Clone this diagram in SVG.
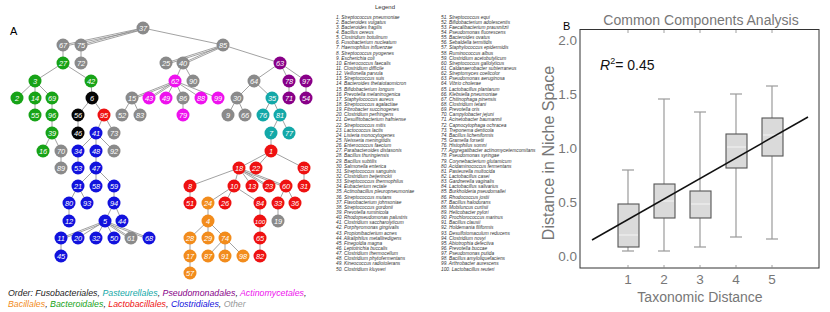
<svg xmlns="http://www.w3.org/2000/svg" width="830" height="312" viewBox="0 0 830 312">
<style>
.e{stroke:#8a8a8a;stroke-width:0.8;fill:none}
.gy{fill:#8a8a8a}.gr{fill:#17a317}.bk{fill:#050505}.rd{fill:#ee1111}.mg{fill:#ee11ee}.pu{fill:#880088}.tl{fill:#13a8a8}.bl{fill:#1212dd}.or{fill:#f28c1c}
.t{font-family:"Liberation Sans",Arial,sans-serif;font-size:7.4px;font-style:italic;fill:#fff;text-anchor:middle}
.lg{font-family:"Liberation Sans",Arial,sans-serif;font-size:4.8px;font-style:italic;fill:#333}
.ax{font-family:"Liberation Sans",Arial,sans-serif;fill:#777}
.ord{font-family:"Liberation Sans",Arial,sans-serif;font-size:8.8px;font-style:italic}
.wh{stroke:#9a9a9a;stroke-width:1.2}
.bx{fill:#dadada;stroke:#555;stroke-width:1.1}
.md{stroke:#f4f4f4;stroke-width:1}
.tk{stroke:#888;stroke-width:0.8}
</style>
<rect width="830" height="312" fill="#fff"/>
<text x="10" y="35" font-family="Liberation Sans,Arial,sans-serif" font-size="11">A</text>
<g id="connectors">
<line class="e" x1="143" y1="28" x2="63" y2="45"/><line class="e" x1="143" y1="29.5" x2="63" y2="46.5"/>
<line class="e" x1="143" y1="28" x2="81" y2="45"/><line class="e" x1="143" y1="29.5" x2="81" y2="46.5"/>
<line class="e" x1="143" y1="28" x2="223" y2="45"/>
<line class="e" x1="63" y1="45" x2="63" y2="63"/>
<line class="e" x1="81" y1="45" x2="81" y2="63"/>
<line class="e" x1="63" y1="63" x2="35" y2="81"/>
<line class="e" x1="63" y1="63" x2="91" y2="81"/>
<line class="e" x1="35" y1="81" x2="17" y2="98"/>
<line class="e" x1="35" y1="81" x2="35" y2="98"/>
<line class="e" x1="35" y1="81" x2="52" y2="98"/>
<line class="e" x1="35" y1="98" x2="35" y2="115"/>
<line class="e" x1="52" y1="98" x2="52" y2="115"/>
<line class="e" x1="52" y1="115" x2="52" y2="133"/>
<line class="e" x1="52" y1="133" x2="43" y2="151"/>
<line class="e" x1="52" y1="133" x2="61" y2="151"/>
<line class="e" x1="61" y1="151" x2="61" y2="168"/>
<line class="e" x1="91" y1="81" x2="92" y2="98"/>
<line class="e" x1="92" y1="98" x2="78" y2="115"/>
<line class="e" x1="92" y1="98" x2="104" y2="115"/>
<line class="e" x1="78" y1="115" x2="78" y2="133"/>
<line class="e" x1="104" y1="115" x2="96" y2="133"/>
<line class="e" x1="104" y1="115" x2="114" y2="133"/>
<line class="e" x1="96" y1="133" x2="78" y2="151"/>
<line class="e" x1="96" y1="133" x2="96" y2="151"/>
<line class="e" x1="96" y1="133" x2="114" y2="151"/>
<line class="e" x1="78" y1="151" x2="78" y2="168"/>
<line class="e" x1="96" y1="151" x2="96" y2="168"/>
<line class="e" x1="96" y1="168" x2="78" y2="186"/>
<line class="e" x1="96" y1="168" x2="96" y2="186"/>
<line class="e" x1="96" y1="168" x2="114" y2="186"/>
<line class="e" x1="78" y1="186" x2="69" y2="203"/>
<line class="e" x1="78" y1="186" x2="87" y2="203"/>
<line class="e" x1="69" y1="203" x2="69" y2="221"/>
<line class="e" x1="114" y1="186" x2="114" y2="203"/>
<line class="e" x1="114" y1="203" x2="105" y2="221"/>
<line class="e" x1="114" y1="203" x2="122" y2="221"/>
<line class="e" x1="105" y1="221" x2="61" y2="238"/><line class="e" x1="105" y1="222.5" x2="61" y2="239.5"/>
<line class="e" x1="105" y1="221" x2="78" y2="238"/>
<line class="e" x1="105" y1="221" x2="96" y2="238"/>
<line class="e" x1="105" y1="221" x2="114" y2="238"/>
<line class="e" x1="105" y1="221" x2="131" y2="238"/><line class="e" x1="105" y1="222.5" x2="131" y2="239.5"/>
<line class="e" x1="105" y1="221" x2="149" y2="238"/><line class="e" x1="105" y1="222.5" x2="149" y2="239.5"/>
<line class="e" x1="61" y1="238" x2="61" y2="256"/>
<line class="e" x1="223" y1="45" x2="166" y2="63"/><line class="e" x1="223" y1="46.5" x2="166" y2="64.5"/>
<line class="e" x1="223" y1="45" x2="183" y2="63"/><line class="e" x1="223" y1="46.5" x2="183" y2="64.5"/>
<line class="e" x1="223" y1="45" x2="280" y2="63"/>
<line class="e" x1="183" y1="63" x2="175" y2="81"/>
<line class="e" x1="183" y1="63" x2="193" y2="81"/>
<line class="e" x1="175" y1="81" x2="132" y2="98"/><line class="e" x1="175" y1="82.5" x2="132" y2="99.5"/>
<line class="e" x1="175" y1="81" x2="149" y2="98"/><line class="e" x1="175" y1="82.5" x2="149" y2="99.5"/>
<line class="e" x1="175" y1="81" x2="166" y2="98"/>
<line class="e" x1="175" y1="81" x2="183" y2="98"/>
<line class="e" x1="175" y1="81" x2="201" y2="98"/>
<line class="e" x1="175" y1="81" x2="218" y2="98"/>
<line class="e" x1="132" y1="98" x2="122" y2="115"/>
<line class="e" x1="132" y1="98" x2="140" y2="115"/>
<line class="e" x1="183" y1="98" x2="183" y2="115"/>
<line class="e" x1="280" y1="63" x2="254" y2="81"/>
<line class="e" x1="280" y1="63" x2="289" y2="81"/>
<line class="e" x1="280" y1="63" x2="306" y2="81"/>
<line class="e" x1="289" y1="81" x2="289" y2="98"/>
<line class="e" x1="306" y1="81" x2="306" y2="98"/>
<line class="e" x1="254" y1="81" x2="237" y2="98"/>
<line class="e" x1="254" y1="81" x2="272" y2="98"/>
<line class="e" x1="237" y1="98" x2="228" y2="115"/>
<line class="e" x1="237" y1="98" x2="245" y2="115"/>
<line class="e" x1="272" y1="98" x2="263" y2="115"/>
<line class="e" x1="272" y1="98" x2="280" y2="115"/>
<line class="e" x1="280" y1="115" x2="271" y2="133"/>
<line class="e" x1="280" y1="115" x2="289" y2="133"/>
<line class="e" x1="271" y1="133" x2="271" y2="151"/>
<line class="e" x1="271" y1="151" x2="239" y2="168"/>
<line class="e" x1="271" y1="151" x2="256" y2="168"/>
<line class="e" x1="271" y1="151" x2="304" y2="168"/>
<line class="e" x1="304" y1="168" x2="304" y2="186"/>
<line class="e" x1="239" y1="168" x2="190" y2="186"/>
<line class="e" x1="239" y1="168" x2="234" y2="186"/>
<line class="e" x1="239" y1="168" x2="252" y2="186"/>
<line class="e" x1="239" y1="168" x2="269" y2="186"/><line class="e" x1="239" y1="169.5" x2="269" y2="187.5"/>
<line class="e" x1="239" y1="168" x2="286" y2="186"/><line class="e" x1="239" y1="169.5" x2="286" y2="187.5"/>
<line class="e" x1="190" y1="186" x2="190" y2="203"/>
<line class="e" x1="234" y1="186" x2="208" y2="203"/>
<line class="e" x1="234" y1="186" x2="225" y2="203"/>
<line class="e" x1="234" y1="186" x2="260" y2="203"/>
<line class="e" x1="286" y1="186" x2="278" y2="203"/>
<line class="e" x1="286" y1="186" x2="295" y2="203"/>
<line class="e" x1="208" y1="203" x2="208" y2="221"/>
<line class="e" x1="260" y1="203" x2="260" y2="221"/>
<line class="e" x1="278" y1="203" x2="278" y2="221"/>
<line class="e" x1="208" y1="221" x2="190" y2="238"/>
<line class="e" x1="208" y1="221" x2="208" y2="238"/>
<line class="e" x1="208" y1="221" x2="225" y2="238"/>
<line class="e" x1="260" y1="221" x2="260" y2="238"/>
<line class="e" x1="190" y1="238" x2="190" y2="256"/>
<line class="e" x1="225" y1="238" x2="208" y2="256"/>
<line class="e" x1="225" y1="238" x2="225" y2="256"/>
<line class="e" x1="225" y1="238" x2="243" y2="256"/>
<line class="e" x1="260" y1="238" x2="260" y2="256"/>
<line class="e" x1="190" y1="256" x2="190" y2="273"/>
</g>
<g id="n37"><circle class="gy" cx="143" cy="28" r="6.5"/><text class="t" x="143" y="30.6">37</text></g>
<g id="n67"><circle class="gy" cx="63" cy="45" r="6.5"/><text class="t" x="63" y="47.6">67</text></g>
<g id="n75"><circle class="gy" cx="81" cy="45" r="6.5"/><text class="t" x="81" y="47.6">75</text></g>
<g id="n85"><circle class="gy" cx="223" cy="45" r="6.5"/><text class="t" x="223" y="47.6">85</text></g>
<g id="n27"><circle class="gr" cx="63" cy="63" r="6.5"/><text class="t" x="63" y="65.6">27</text></g>
<g id="n72"><circle class="gy" cx="81" cy="63" r="6.5"/><text class="t" x="81" y="65.6">72</text></g>
<g id="n25"><circle class="gy" cx="166" cy="63" r="6.5"/><text class="t" x="166" y="65.6">25</text></g>
<g id="n40"><circle class="gy" cx="183" cy="63" r="6.5"/><text class="t" x="183" y="65.6">40</text></g>
<g id="n63"><circle class="pu" cx="280" cy="63" r="6.5"/><text class="t" x="280" y="65.6">63</text></g>
<g id="n3"><circle class="gr" cx="35" cy="81" r="6.5"/><text class="t" x="35" y="83.6">3</text></g>
<g id="n42"><circle class="gr" cx="91" cy="81" r="6.5"/><text class="t" x="91" y="83.6">42</text></g>
<g id="n62"><circle class="mg" cx="175" cy="81" r="6.5"/><text class="t" x="175" y="83.6">62</text></g>
<g id="n90"><circle class="gy" cx="193" cy="81" r="6.5"/><text class="t" x="193" y="83.6">90</text></g>
<g id="n64"><circle class="gy" cx="254" cy="81" r="6.5"/><text class="t" x="254" y="83.6">64</text></g>
<g id="n78"><circle class="pu" cx="289" cy="81" r="6.5"/><text class="t" x="289" y="83.6">78</text></g>
<g id="n97"><circle class="pu" cx="306" cy="81" r="6.5"/><text class="t" x="306" y="83.6">97</text></g>
<g id="n2"><circle class="gr" cx="17" cy="98" r="6.5"/><text class="t" x="17" y="100.6">2</text></g>
<g id="n14"><circle class="gr" cx="35" cy="98" r="6.5"/><text class="t" x="35" y="100.6">14</text></g>
<g id="n69"><circle class="gr" cx="52" cy="98" r="6.5"/><text class="t" x="52" y="100.6">69</text></g>
<g id="n6"><circle class="bk" cx="92" cy="98" r="6.5"/><text class="t" x="92" y="100.6">6</text></g>
<g id="n15"><circle class="gy" cx="132" cy="98" r="6.5"/><text class="t" x="132" y="100.6">15</text></g>
<g id="n43"><circle class="mg" cx="149" cy="98" r="6.5"/><text class="t" x="149" y="100.6">43</text></g>
<g id="n49"><circle class="mg" cx="166" cy="98" r="6.5"/><text class="t" x="166" y="100.6">49</text></g>
<g id="n86"><circle class="gy" cx="183" cy="98" r="6.5"/><text class="t" x="183" y="100.6">86</text></g>
<g id="n88"><circle class="mg" cx="201" cy="98" r="6.5"/><text class="t" x="201" y="100.6">88</text></g>
<g id="n99"><circle class="mg" cx="218" cy="98" r="6.5"/><text class="t" x="218" y="100.6">99</text></g>
<g id="n30"><circle class="gy" cx="237" cy="98" r="6.5"/><text class="t" x="237" y="100.6">30</text></g>
<g id="n35"><circle class="tl" cx="272" cy="98" r="6.5"/><text class="t" x="272" y="100.6">35</text></g>
<g id="n71"><circle class="pu" cx="289" cy="98" r="6.5"/><text class="t" x="289" y="100.6">71</text></g>
<g id="n54"><circle class="pu" cx="306" cy="98" r="6.5"/><text class="t" x="306" y="100.6">54</text></g>
<g id="n55"><circle class="gr" cx="35" cy="115" r="6.5"/><text class="t" x="35" y="117.6">55</text></g>
<g id="n96"><circle class="gr" cx="52" cy="115" r="6.5"/><text class="t" x="52" y="117.6">96</text></g>
<g id="n56"><circle class="bk" cx="78" cy="115" r="6.5"/><text class="t" x="78" y="117.6">56</text></g>
<g id="n95"><circle class="rd" cx="104" cy="115" r="6.5"/><text class="t" x="104" y="117.6">95</text></g>
<g id="n52"><circle class="gy" cx="122" cy="115" r="6.5"/><text class="t" x="122" y="117.6">52</text></g>
<g id="n83"><circle class="gy" cx="140" cy="115" r="6.5"/><text class="t" x="140" y="117.6">83</text></g>
<g id="n79"><circle class="mg" cx="183" cy="115" r="6.5"/><text class="t" x="183" y="117.6">79</text></g>
<g id="n9"><circle class="gy" cx="228" cy="115" r="6.5"/><text class="t" x="228" y="117.6">9</text></g>
<g id="n66"><circle class="gy" cx="245" cy="115" r="6.5"/><text class="t" x="245" y="117.6">66</text></g>
<g id="n76"><circle class="tl" cx="263" cy="115" r="6.5"/><text class="t" x="263" y="117.6">76</text></g>
<g id="n81"><circle class="tl" cx="280" cy="115" r="6.5"/><text class="t" x="280" y="117.6">81</text></g>
<g id="n39"><circle class="gr" cx="52" cy="133" r="6.5"/><text class="t" x="52" y="135.6">39</text></g>
<g id="n46"><circle class="bk" cx="78" cy="133" r="6.5"/><text class="t" x="78" y="135.6">46</text></g>
<g id="n41"><circle class="bl" cx="96" cy="133" r="6.5"/><text class="t" x="96" y="135.6">41</text></g>
<g id="n73"><circle class="gy" cx="114" cy="133" r="6.5"/><text class="t" x="114" y="135.6">73</text></g>
<g id="n7"><circle class="tl" cx="271" cy="133" r="6.5"/><text class="t" x="271" y="135.6">7</text></g>
<g id="n77"><circle class="tl" cx="289" cy="133" r="6.5"/><text class="t" x="289" y="135.6">77</text></g>
<g id="n16"><circle class="gr" cx="43" cy="151" r="6.5"/><text class="t" x="43" y="153.6">16</text></g>
<g id="n70"><circle class="gy" cx="61" cy="151" r="6.5"/><text class="t" x="61" y="153.6">70</text></g>
<g id="n34"><circle class="bl" cx="78" cy="151" r="6.5"/><text class="t" x="78" y="153.6">34</text></g>
<g id="n48"><circle class="bl" cx="96" cy="151" r="6.5"/><text class="t" x="96" y="153.6">48</text></g>
<g id="n92"><circle class="gy" cx="114" cy="151" r="6.5"/><text class="t" x="114" y="153.6">92</text></g>
<g id="n1"><circle class="rd" cx="271" cy="151" r="6.5"/><text class="t" x="271" y="153.6">1</text></g>
<g id="n89"><circle class="gy" cx="61" cy="168" r="6.5"/><text class="t" x="61" y="170.6">89</text></g>
<g id="n53"><circle class="bl" cx="78" cy="168" r="6.5"/><text class="t" x="78" y="170.6">53</text></g>
<g id="n47"><circle class="bl" cx="96" cy="168" r="6.5"/><text class="t" x="96" y="170.6">47</text></g>
<g id="n18"><circle class="rd" cx="239" cy="168" r="6.5"/><text class="t" x="239" y="170.6">18</text></g>
<g id="n22"><circle class="rd" cx="256" cy="168" r="6.5"/><text class="t" x="256" y="170.6">22</text></g>
<g id="n38"><circle class="rd" cx="304" cy="168" r="6.5"/><text class="t" x="304" y="170.6">38</text></g>
<g id="n21"><circle class="bl" cx="78" cy="186" r="6.5"/><text class="t" x="78" y="188.6">21</text></g>
<g id="n58"><circle class="bl" cx="96" cy="186" r="6.5"/><text class="t" x="96" y="188.6">58</text></g>
<g id="n59"><circle class="bl" cx="114" cy="186" r="6.5"/><text class="t" x="114" y="188.6">59</text></g>
<g id="n8"><circle class="rd" cx="190" cy="186" r="6.5"/><text class="t" x="190" y="188.6">8</text></g>
<g id="n10"><circle class="rd" cx="234" cy="186" r="6.5"/><text class="t" x="234" y="188.6">10</text></g>
<g id="n13"><circle class="rd" cx="252" cy="186" r="6.5"/><text class="t" x="252" y="188.6">13</text></g>
<g id="n23"><circle class="rd" cx="269" cy="186" r="6.5"/><text class="t" x="269" y="188.6">23</text></g>
<g id="n60"><circle class="rd" cx="286" cy="186" r="6.5"/><text class="t" x="286" y="188.6">60</text></g>
<g id="n31"><circle class="rd" cx="304" cy="186" r="6.5"/><text class="t" x="304" y="188.6">31</text></g>
<g id="n80"><circle class="bl" cx="69" cy="203" r="6.5"/><text class="t" x="69" y="205.6">80</text></g>
<g id="n93"><circle class="bl" cx="87" cy="203" r="6.5"/><text class="t" x="87" y="205.6">93</text></g>
<g id="n94"><circle class="bl" cx="114" cy="203" r="6.5"/><text class="t" x="114" y="205.6">94</text></g>
<g id="n51"><circle class="rd" cx="190" cy="203" r="6.5"/><text class="t" x="190" y="205.6">51</text></g>
<g id="n24"><circle class="or" cx="208" cy="203" r="6.5"/><text class="t" x="208" y="205.6">24</text></g>
<g id="n26"><circle class="rd" cx="225" cy="203" r="6.5"/><text class="t" x="225" y="205.6">26</text></g>
<g id="n84"><circle class="rd" cx="260" cy="203" r="6.5"/><text class="t" x="260" y="205.6">84</text></g>
<g id="n33"><circle class="rd" cx="278" cy="203" r="6.5"/><text class="t" x="278" y="205.6">33</text></g>
<g id="n36"><circle class="rd" cx="295" cy="203" r="6.5"/><text class="t" x="295" y="205.6">36</text></g>
<g id="n12"><circle class="bl" cx="69" cy="221" r="6.5"/><text class="t" x="69" y="223.6">12</text></g>
<g id="n5"><circle class="bl" cx="105" cy="221" r="6.5"/><text class="t" x="105" y="223.6">5</text></g>
<g id="n44"><circle class="bl" cx="122" cy="221" r="6.5"/><text class="t" x="122" y="223.6">44</text></g>
<g id="n4"><circle class="or" cx="208" cy="221" r="6.5"/><text class="t" x="208" y="223.6">4</text></g>
<g id="n100"><circle class="rd" cx="260" cy="221" r="6.5"/><text class="t" x="260" y="223.6" style="font-size:6.2px">100</text></g>
<g id="n19"><circle class="gy" cx="278" cy="221" r="6.5"/><text class="t" x="278" y="223.6">19</text></g>
<g id="n11"><circle class="bl" cx="61" cy="238" r="6.5"/><text class="t" x="61" y="240.6">11</text></g>
<g id="n20"><circle class="bl" cx="78" cy="238" r="6.5"/><text class="t" x="78" y="240.6">20</text></g>
<g id="n32"><circle class="bl" cx="96" cy="238" r="6.5"/><text class="t" x="96" y="240.6">32</text></g>
<g id="n50"><circle class="bl" cx="114" cy="238" r="6.5"/><text class="t" x="114" y="240.6">50</text></g>
<g id="n61"><circle class="gy" cx="131" cy="238" r="6.5"/><text class="t" x="131" y="240.6">61</text></g>
<g id="n68"><circle class="bl" cx="149" cy="238" r="6.5"/><text class="t" x="149" y="240.6">68</text></g>
<g id="n28"><circle class="or" cx="190" cy="238" r="6.5"/><text class="t" x="190" y="240.6">28</text></g>
<g id="n29"><circle class="or" cx="208" cy="238" r="6.5"/><text class="t" x="208" y="240.6">29</text></g>
<g id="n74"><circle class="or" cx="225" cy="238" r="6.5"/><text class="t" x="225" y="240.6">74</text></g>
<g id="n65"><circle class="rd" cx="260" cy="238" r="6.5"/><text class="t" x="260" y="240.6">65</text></g>
<g id="n45"><circle class="bl" cx="61" cy="256" r="6.5"/><text class="t" x="61" y="258.6">45</text></g>
<g id="n17"><circle class="or" cx="190" cy="256" r="6.5"/><text class="t" x="190" y="258.6">17</text></g>
<g id="n87"><circle class="or" cx="208" cy="256" r="6.5"/><text class="t" x="208" y="258.6">87</text></g>
<g id="n91"><circle class="or" cx="225" cy="256" r="6.5"/><text class="t" x="225" y="258.6">91</text></g>
<g id="n98"><circle class="or" cx="243" cy="256" r="6.5"/><text class="t" x="243" y="258.6">98</text></g>
<g id="n82"><circle class="rd" cx="260" cy="256" r="6.5"/><text class="t" x="260" y="258.6">82</text></g>
<g id="n57"><circle class="or" cx="190" cy="273" r="6.5"/><text class="t" x="190" y="275.6">57</text></g>
<g id="order">
<text class="ord" x="8" y="296"><tspan fill="#222">Order: Fusobacteriales, </tspan><tspan fill="#13a8a8">Pasteurellales</tspan><tspan fill="#222">, </tspan><tspan fill="#880088">Pseudomonadales</tspan><tspan fill="#222">, </tspan><tspan fill="#ee11ee">Actinomycetales</tspan><tspan fill="#222">,</tspan></text>
<text class="ord" x="8" y="307"><tspan fill="#f28c1c">Bacillales</tspan><tspan fill="#222">, </tspan><tspan fill="#17a317">Bacteroidales</tspan><tspan fill="#222">, </tspan><tspan fill="#ee1111">Lactobacillales</tspan><tspan fill="#222">, </tspan><tspan fill="#1212dd">Clostridiales</tspan><tspan fill="#222">, </tspan><tspan fill="#999">Other</tspan></text>
</g>
<g id="legend">
<text x="385" y="9" font-family="Liberation Sans,Arial,sans-serif" font-size="6" fill="#333" text-anchor="middle">Legend</text>
<text class="lg" x="336" y="18.5">1. Streptococcus pneumoniae</text>
<text class="lg" x="336" y="23.6">2. Bacteroides vulgatus</text>
<text class="lg" x="336" y="28.8">3. Bacteroides fragilis</text>
<text class="lg" x="336" y="33.9">4. Bacillus cereus</text>
<text class="lg" x="336" y="39.1">5. Clostridium botulinum</text>
<text class="lg" x="336" y="44.2">6. Fusobacterium nucleatum</text>
<text class="lg" x="336" y="49.4">7. Haemophilus influenzae</text>
<text class="lg" x="336" y="54.5">8. Streptococcus pyogenes</text>
<text class="lg" x="336" y="59.6">9. Escherichia coli</text>
<text class="lg" x="336" y="64.8">10. Enterococcus faecalis</text>
<text class="lg" x="336" y="69.9">11. Clostridium difficile</text>
<text class="lg" x="336" y="75.1">12. Veillonella parvula</text>
<text class="lg" x="336" y="80.2">13. Streptococcus suis</text>
<text class="lg" x="336" y="85.4">14. Bacteroides thetaiotaomicron</text>
<text class="lg" x="336" y="90.5">15. Bifidobacterium longum</text>
<text class="lg" x="336" y="95.6">16. Prevotella melaninogenica</text>
<text class="lg" x="336" y="100.8">17. Staphylococcus aureus</text>
<text class="lg" x="336" y="105.9">18. Streptococcus agalactiae</text>
<text class="lg" x="336" y="111.1">19. Fibrobacter succinogenes</text>
<text class="lg" x="336" y="116.2">20. Clostridium perfringens</text>
<text class="lg" x="336" y="121.4">21. Desulfitobacterium hafniense</text>
<text class="lg" x="336" y="126.5">22. Streptococcus mitis</text>
<text class="lg" x="336" y="131.6">23. Lactococcus lactis</text>
<text class="lg" x="336" y="136.8">24. Listeria monocytogenes</text>
<text class="lg" x="336" y="141.9">25. Neisseria meningitidis</text>
<text class="lg" x="336" y="147.1">26. Enterococcus faecium</text>
<text class="lg" x="336" y="152.2">27. Parabacteroides distasonis</text>
<text class="lg" x="336" y="157.4">28. Bacillus thuringiensis</text>
<text class="lg" x="336" y="162.5">29. Bacillus subtilis</text>
<text class="lg" x="336" y="167.6">30. Salmonella enterica</text>
<text class="lg" x="336" y="172.8">31. Streptococcus sanguinis</text>
<text class="lg" x="336" y="177.9">32. Clostridium beijerinckii</text>
<text class="lg" x="336" y="183.1">33. Streptococcus thermophilus</text>
<text class="lg" x="336" y="188.2">34. Eubacterium rectale</text>
<text class="lg" x="336" y="193.4">35. Actinobacillus pleuropneumoniae</text>
<text class="lg" x="336" y="198.5">36. Streptococcus mutans</text>
<text class="lg" x="336" y="203.6">37. Flavobacterium johnsoniae</text>
<text class="lg" x="336" y="208.8">38. Streptococcus gordonii</text>
<text class="lg" x="336" y="213.9">39. Prevotella ruminicola</text>
<text class="lg" x="336" y="219.1">40. Rhodopseudomonas palustris</text>
<text class="lg" x="336" y="224.2">41. Clostridium saccharolyticum</text>
<text class="lg" x="336" y="229.4">42. Porphyromonas gingivalis</text>
<text class="lg" x="336" y="234.5">43. Propionibacterium acnes</text>
<text class="lg" x="336" y="239.6">44. Alkaliphilus metalliredigens</text>
<text class="lg" x="336" y="244.8">45. Finegoldia magna</text>
<text class="lg" x="336" y="249.9">46. Leptotrichia buccalis</text>
<text class="lg" x="336" y="255.1">47. Clostridium thermocellum</text>
<text class="lg" x="336" y="260.2">48. Clostridium phytofermentans</text>
<text class="lg" x="336" y="265.4">49. Kineococcus radiotolerans</text>
<text class="lg" x="336" y="270.5">50. Clostridium kluyveri</text>
<text class="lg" x="441" y="18.5">51. Streptococcus equi</text>
<text class="lg" x="441" y="23.6">52. Bifidobacterium adolescentis</text>
<text class="lg" x="441" y="28.8">53. Faecalibacterium prausnitzii</text>
<text class="lg" x="441" y="33.9">54. Pseudomonas fluorescens</text>
<text class="lg" x="441" y="39.1">55. Bacteroides ovatus</text>
<text class="lg" x="441" y="44.2">56. Sebaldella termitidis</text>
<text class="lg" x="441" y="49.4">57. Staphylococcus epidermidis</text>
<text class="lg" x="441" y="54.5">58. Ruminococcus albus</text>
<text class="lg" x="441" y="59.6">59. Clostridium acetobutylicum</text>
<text class="lg" x="441" y="64.8">60. Streptococcus gallolyticus</text>
<text class="lg" x="441" y="69.9">61. Caldanaerobacter subterraneus</text>
<text class="lg" x="441" y="75.1">62. Streptomyces coelicolor</text>
<text class="lg" x="441" y="80.2">63. Pseudomonas aeruginosa</text>
<text class="lg" x="441" y="85.4">64. Vibrio cholerae</text>
<text class="lg" x="441" y="90.5">65. Lactobacillus plantarum</text>
<text class="lg" x="441" y="95.6">66. Klebsiella pneumoniae</text>
<text class="lg" x="441" y="100.8">67. Chitinophaga pinensis</text>
<text class="lg" x="441" y="105.9">68. Clostridium tetani</text>
<text class="lg" x="441" y="111.1">69. Prevotella oris</text>
<text class="lg" x="441" y="116.2">70. Campylobacter jejuni</text>
<text class="lg" x="441" y="121.4">71. Acinetobacter baumannii</text>
<text class="lg" x="441" y="126.5">72. Capnocytophaga ochracea</text>
<text class="lg" x="441" y="131.6">73. Treponema denticola</text>
<text class="lg" x="441" y="136.8">74. Bacillus licheniformis</text>
<text class="lg" x="441" y="141.9">75. Gramella forsetii</text>
<text class="lg" x="441" y="147.1">76. Histophilus somni</text>
<text class="lg" x="441" y="152.2">77. Aggregatibacter actinomycetemcomitans</text>
<text class="lg" x="441" y="157.4">78. Pseudomonas syringae</text>
<text class="lg" x="441" y="162.5">79. Corynebacterium glutamicum</text>
<text class="lg" x="441" y="167.6">80. Acidaminococcus fermentans</text>
<text class="lg" x="441" y="172.8">81. Pasteurella multocida</text>
<text class="lg" x="441" y="177.9">82. Lactobacillus casei</text>
<text class="lg" x="441" y="183.1">83. Gardnerella vaginalis</text>
<text class="lg" x="441" y="188.2">84. Lactobacillus salivarius</text>
<text class="lg" x="441" y="193.4">85. Burkholderia pseudomallei</text>
<text class="lg" x="441" y="198.5">86. Rhodococcus jostii</text>
<text class="lg" x="441" y="203.6">87. Bacillus halodurans</text>
<text class="lg" x="441" y="208.8">88. Mobiluncus curtisii</text>
<text class="lg" x="441" y="213.9">89. Helicobacter pylori</text>
<text class="lg" x="441" y="219.1">90. Prochlorococcus marinus</text>
<text class="lg" x="441" y="224.2">91. Bacillus clausii</text>
<text class="lg" x="441" y="229.4">92. Holdemania filiformis</text>
<text class="lg" x="441" y="234.5">93. Desulfotomaculum reducens</text>
<text class="lg" x="441" y="239.6">94. Clostridium novyi</text>
<text class="lg" x="441" y="244.8">95. Abiotrophia defectiva</text>
<text class="lg" x="441" y="249.9">96. Prevotella buccae</text>
<text class="lg" x="441" y="255.1">97. Pseudomonas putida</text>
<text class="lg" x="441" y="260.2">98. Bacillus amyloliquefaciens</text>
<text class="lg" x="441" y="265.4">99. Arthrobacter aurescens</text>
<text class="lg" x="441" y="270.5">100. Lactobacillus reuteri</text>
</g>
<g id="chart">
<text x="563" y="30" font-family="Liberation Sans,Arial,sans-serif" font-size="11">B</text>
<text class="ax" x="701" y="25" font-size="14" text-anchor="middle">Common Components Analysis</text>
<rect x="580" y="29.5" width="239" height="238.5" fill="none" stroke="#333" stroke-width="1"/>
<g class="tk">
<line x1="628" y1="30" x2="628" y2="33"/><line x1="664" y1="30" x2="664" y2="33"/><line x1="700" y1="30" x2="700" y2="33"/><line x1="736" y1="30" x2="736" y2="33"/><line x1="772" y1="30" x2="772" y2="33"/>
<line x1="628" y1="268" x2="628" y2="265"/><line x1="664" y1="268" x2="664" y2="265"/><line x1="700" y1="268" x2="700" y2="265"/><line x1="736" y1="268" x2="736" y2="265"/><line x1="772" y1="268" x2="772" y2="265"/>
</g>
<g class="ax" font-size="13.5" text-anchor="end">
<text x="577" y="261">0.0</text><text x="577" y="207">0.5</text><text x="577" y="153">1.0</text><text x="577" y="99">1.5</text><text x="577" y="45">2.0</text>
</g>
<g class="ax" font-size="13.5" text-anchor="middle">
<text x="628" y="284">1</text><text x="664" y="284">2</text><text x="700" y="284">3</text><text x="736" y="284">4</text><text x="772" y="284">5</text>
</g>
<text class="ax" x="700" y="302" font-size="14" text-anchor="middle">Taxonomic Distance</text>
<text class="ax" transform="translate(554,153) rotate(-90)" font-size="16" text-anchor="middle">Distance in Niche Space</text>
<text x="600" y="70" font-family="Liberation Sans,Arial,sans-serif" font-size="14" fill="#111"><tspan font-style="italic">R</tspan><tspan font-size="9" dy="-6">2</tspan><tspan dy="6">= 0.45</tspan></text>
<line class="wh" x1="628" y1="170" x2="628" y2="251"/><line class="wh" x1="622" y1="251" x2="634" y2="251"/><line class="wh" x1="622" y1="170" x2="634" y2="170"/>
<rect class="bx" x="618" y="204" width="21" height="43"/><line class="md" x1="619" y1="235" x2="638" y2="235"/>
<line class="wh" x1="664" y1="99" x2="664" y2="251"/><line class="wh" x1="658" y1="251" x2="670" y2="251"/><line class="wh" x1="658" y1="99" x2="670" y2="99"/>
<rect class="bx" x="654" y="184" width="21" height="34"/><line class="md" x1="655" y1="201" x2="674" y2="201"/>
<line class="wh" x1="700" y1="112" x2="700" y2="247"/><line class="wh" x1="694" y1="247" x2="706" y2="247"/><line class="wh" x1="694" y1="112" x2="706" y2="112"/>
<rect class="bx" x="690" y="191" width="21" height="27"/><line class="md" x1="691" y1="204" x2="710" y2="204"/>
<line class="wh" x1="736" y1="94" x2="736" y2="237"/><line class="wh" x1="730" y1="237" x2="742" y2="237"/><line class="wh" x1="730" y1="94" x2="742" y2="94"/>
<rect class="bx" x="726" y="134" width="21" height="34"/><line class="md" x1="727" y1="147" x2="746" y2="147"/>
<line class="wh" x1="772" y1="86" x2="772" y2="239"/><line class="wh" x1="766" y1="239" x2="778" y2="239"/><line class="wh" x1="766" y1="86" x2="778" y2="86"/>
<rect class="bx" x="762" y="118" width="21" height="38"/><line class="md" x1="763" y1="135" x2="782" y2="135"/>
<line x1="592" y1="240" x2="808" y2="117" stroke="#111" stroke-width="1.5"/>
</g>
</svg>
